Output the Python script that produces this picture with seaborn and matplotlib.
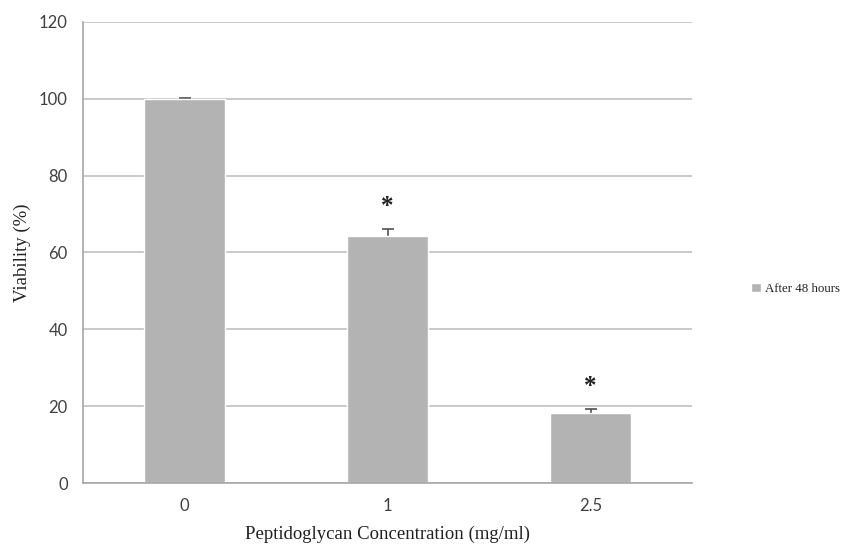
import pandas as pd
import matplotlib.pyplot as plt
import seaborn as sns

sns.set_theme(style='whitegrid')

# values
concentrations = ['0', '1', '2.5']
viability = [100.0, 64.3, 18.2]
errors = [0.2, 1.9, 1.0]
stars = ['', '*', '*']
series_name = 'After 48 hours'

bar_color = '#b3b3b3'
grid_color = '#c0c0c0'
axis_color = '#a6a6a6'
text_color = '#404040'

df = pd.DataFrame({'conc': concentrations, 'viab': viability})

fig = plt.figure(figsize=(8.46, 5.48), dpi=100)
ax = fig.add_axes([83 / 846, 1 - 483 / 548, (692 - 83) / 846, (483 - 22) / 548])

sns.barplot(data=df, x='conc', y='viab', color=bar_color, width=0.4,
            saturation=1, errorbar=None, label=series_name, ax=ax, zorder=2)

# error bars drawn behind the bars so only the upper half shows
xs = range(len(concentrations))
ax.errorbar(xs, viability, yerr=errors, fmt='none',
            ecolor='#505050', elinewidth=1.2, capsize=4.5, capthick=1.2, zorder=1.5)

for x, v, e, s in zip(xs, viability, errors, stars):
    if s:
        ax.text(x, v + e + 5.8, s, ha='center', va='center', fontsize=18,
                fontweight='bold', family='Liberation Serif', color='#202020')

ax.set_ylim(0, 120)
ax.set_yticks(range(0, 121, 20))
ax.set_xlim(-0.5, len(concentrations) - 0.5)

ax.grid(axis='y', color=grid_color, linewidth=1.2)
ax.grid(axis='x', visible=False)
ax.set_axisbelow(True)
for side in ['top', 'right']:
    ax.spines[side].set_visible(False)
for side in ['left', 'bottom']:
    ax.spines[side].set_color(axis_color)
    ax.spines[side].set_linewidth(1.2)

# tick marks sit on the category boundaries
ax.set_xticks([i - 0.5 for i in range(len(concentrations) + 1)], minor=True)
ax.tick_params(axis='x', which='major', length=0, pad=11)
ax.tick_params(axis='x', which='minor', length=6, width=1.2, color=axis_color, direction='out')
ax.tick_params(axis='y', length=6, width=1.2, color=grid_color, direction='out', pad=5)
for lab in ax.get_xticklabels() + ax.get_yticklabels():
    lab.set_family('Lato')
    lab.set_fontsize(12)
    lab.set_color(text_color)

ax.set_xlabel('Peptidoglycan Concentration (mg/ml)', family='Liberation Serif',
              fontsize=13.5, color='#202020', labelpad=8)
ax.set_ylabel('Viability (%)', family='Liberation Serif', fontsize=13.5,
              color='#202020', labelpad=6)

handles, labels = ax.get_legend_handles_labels()
ax.legend().remove()
leg = fig.legend(handles, labels, loc='center left', bbox_to_anchor=(751 / 846, 1 - 289 / 548),
                 frameon=False, borderpad=0, borderaxespad=0,
                 handlelength=0.75, handleheight=0.75, handletextpad=0.35,
                 prop={'family': 'Liberation Serif', 'size': 9.3})
for t in leg.get_texts():
    t.set_color('#202020')

fig.savefig('out.png', dpi=100)
